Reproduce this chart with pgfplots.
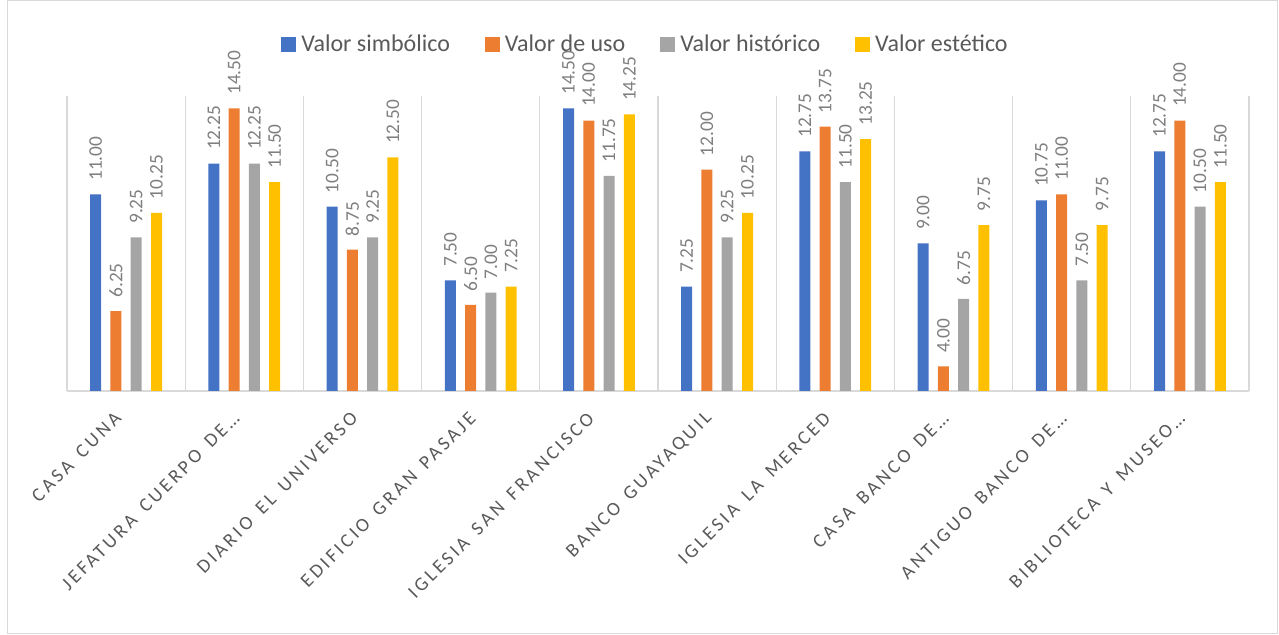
\documentclass[border=0pt]{standalone}
\usepackage{fontspec}
\setmainfont{Carlito}
\newfontfamily\lblfont[LetterSpace=16, WordSpace=1.5]{Carlito}
\usepackage{pgfplots}
\pgfplotsset{compat=1.18}
\definecolor{cBlue}{HTML}{4472C4}
\definecolor{cOrange}{HTML}{ED7D31}
\definecolor{cGray}{HTML}{A5A5A5}
\definecolor{cYellow}{HTML}{FFC000}
\definecolor{gridc}{HTML}{D9D9D9}
\definecolor{txtc}{HTML}{595959}
\definecolor{lblc}{HTML}{7F7F7F}
\begin{document}
\begin{tikzpicture}
\path[use as bounding box] (0,0) rectangle (959.25pt,476.25pt);
\draw[gridc, line width=0.75pt] (5.25pt,0.75pt) rectangle (957.75pt,475.5pt);
\begin{axis}[
  at={(50.25pt,183pt)}, anchor=south west,
  scale only axis, width=886.5pt, height=221.25pt,
  xmin=-0.5, xmax=9.5, ymin=3, ymax=15,
  ybar=6.95pt, bar width=8.25pt,
  axis x line*=bottom, axis y line=none,
  x axis line style={gridc, line width=1.2pt, -},
  ytick=\empty,
  xtick={0,...,9},
  xticklabels={CASA CUNA, JEFATURA CUERPO DE…, DIARIO EL UNIVERSO, EDIFICIO GRAN PASAJE, IGLESIA SAN FRANCISCO, BANCO GUAYAQUIL, IGLESIA LA MERCED, CASA BANCO DE…, ANTIGUO BANCO DE…, BIBLIOTECA Y MUSEO…},
  xticklabel style={xshift=-6pt, yshift=-14pt, rotate=45, anchor=east, font=\lblfont\fontsize{14.5}{16}\selectfont, text=txtc, inner sep=0pt},
  major tick style={draw=none},
  extra x ticks={-0.5,0.5,...,9.5},
  extra x tick labels={},
  extra x tick style={grid=major, major grid style={gridc, line width=0.9pt}, major tick style={draw=none}},
  nodes near coords={\pgfmathprintnumber[fixed,fixed zerofill,precision=2,assume math mode=true]{\pgfplotspointmeta}},
  every node near coord/.append style={rotate=90, anchor=west, inner xsep=10pt, font=\fontsize{14.5}{16}\selectfont, text=lblc},
  legend style={at={(0.4895,1.176)}, anchor=center, draw=none, fill=none, legend columns=4, font=\fontsize{18}{20}\selectfont, text=txtc, /tikz/every even column/.append style={column sep=24pt}, /tikz/every odd column/.append style={column sep=2pt}},
  legend image code/.code={\fill[#1] (0pt,-5.6pt) rectangle (11.25pt,5.6pt);},
]
\addplot[fill=cBlue, draw=none] coordinates {(0,11.00) (1,12.25) (2,10.50) (3,7.50) (4,14.50) (5,7.25) (6,12.75) (7,9.00) (8,10.75) (9,12.75)};
\addplot[fill=cOrange, draw=none] coordinates {(0,6.25) (1,14.50) (2,8.75) (3,6.50) (4,14.00) (5,12.00) (6,13.75) (7,4.00) (8,11.00) (9,14.00)};
\addplot[fill=cGray, draw=none] coordinates {(0,9.25) (1,12.25) (2,9.25) (3,7.00) (4,11.75) (5,9.25) (6,11.50) (7,6.75) (8,7.50) (9,10.50)};
\addplot[fill=cYellow, draw=none] coordinates {(0,10.25) (1,11.50) (2,12.50) (3,7.25) (4,14.25) (5,10.25) (6,13.25) (7,9.75) (8,9.75) (9,11.50)};
\legend{Valor simbólico, Valor de uso, Valor histórico, Valor estético}
\end{axis}
\end{tikzpicture}
\end{document}
